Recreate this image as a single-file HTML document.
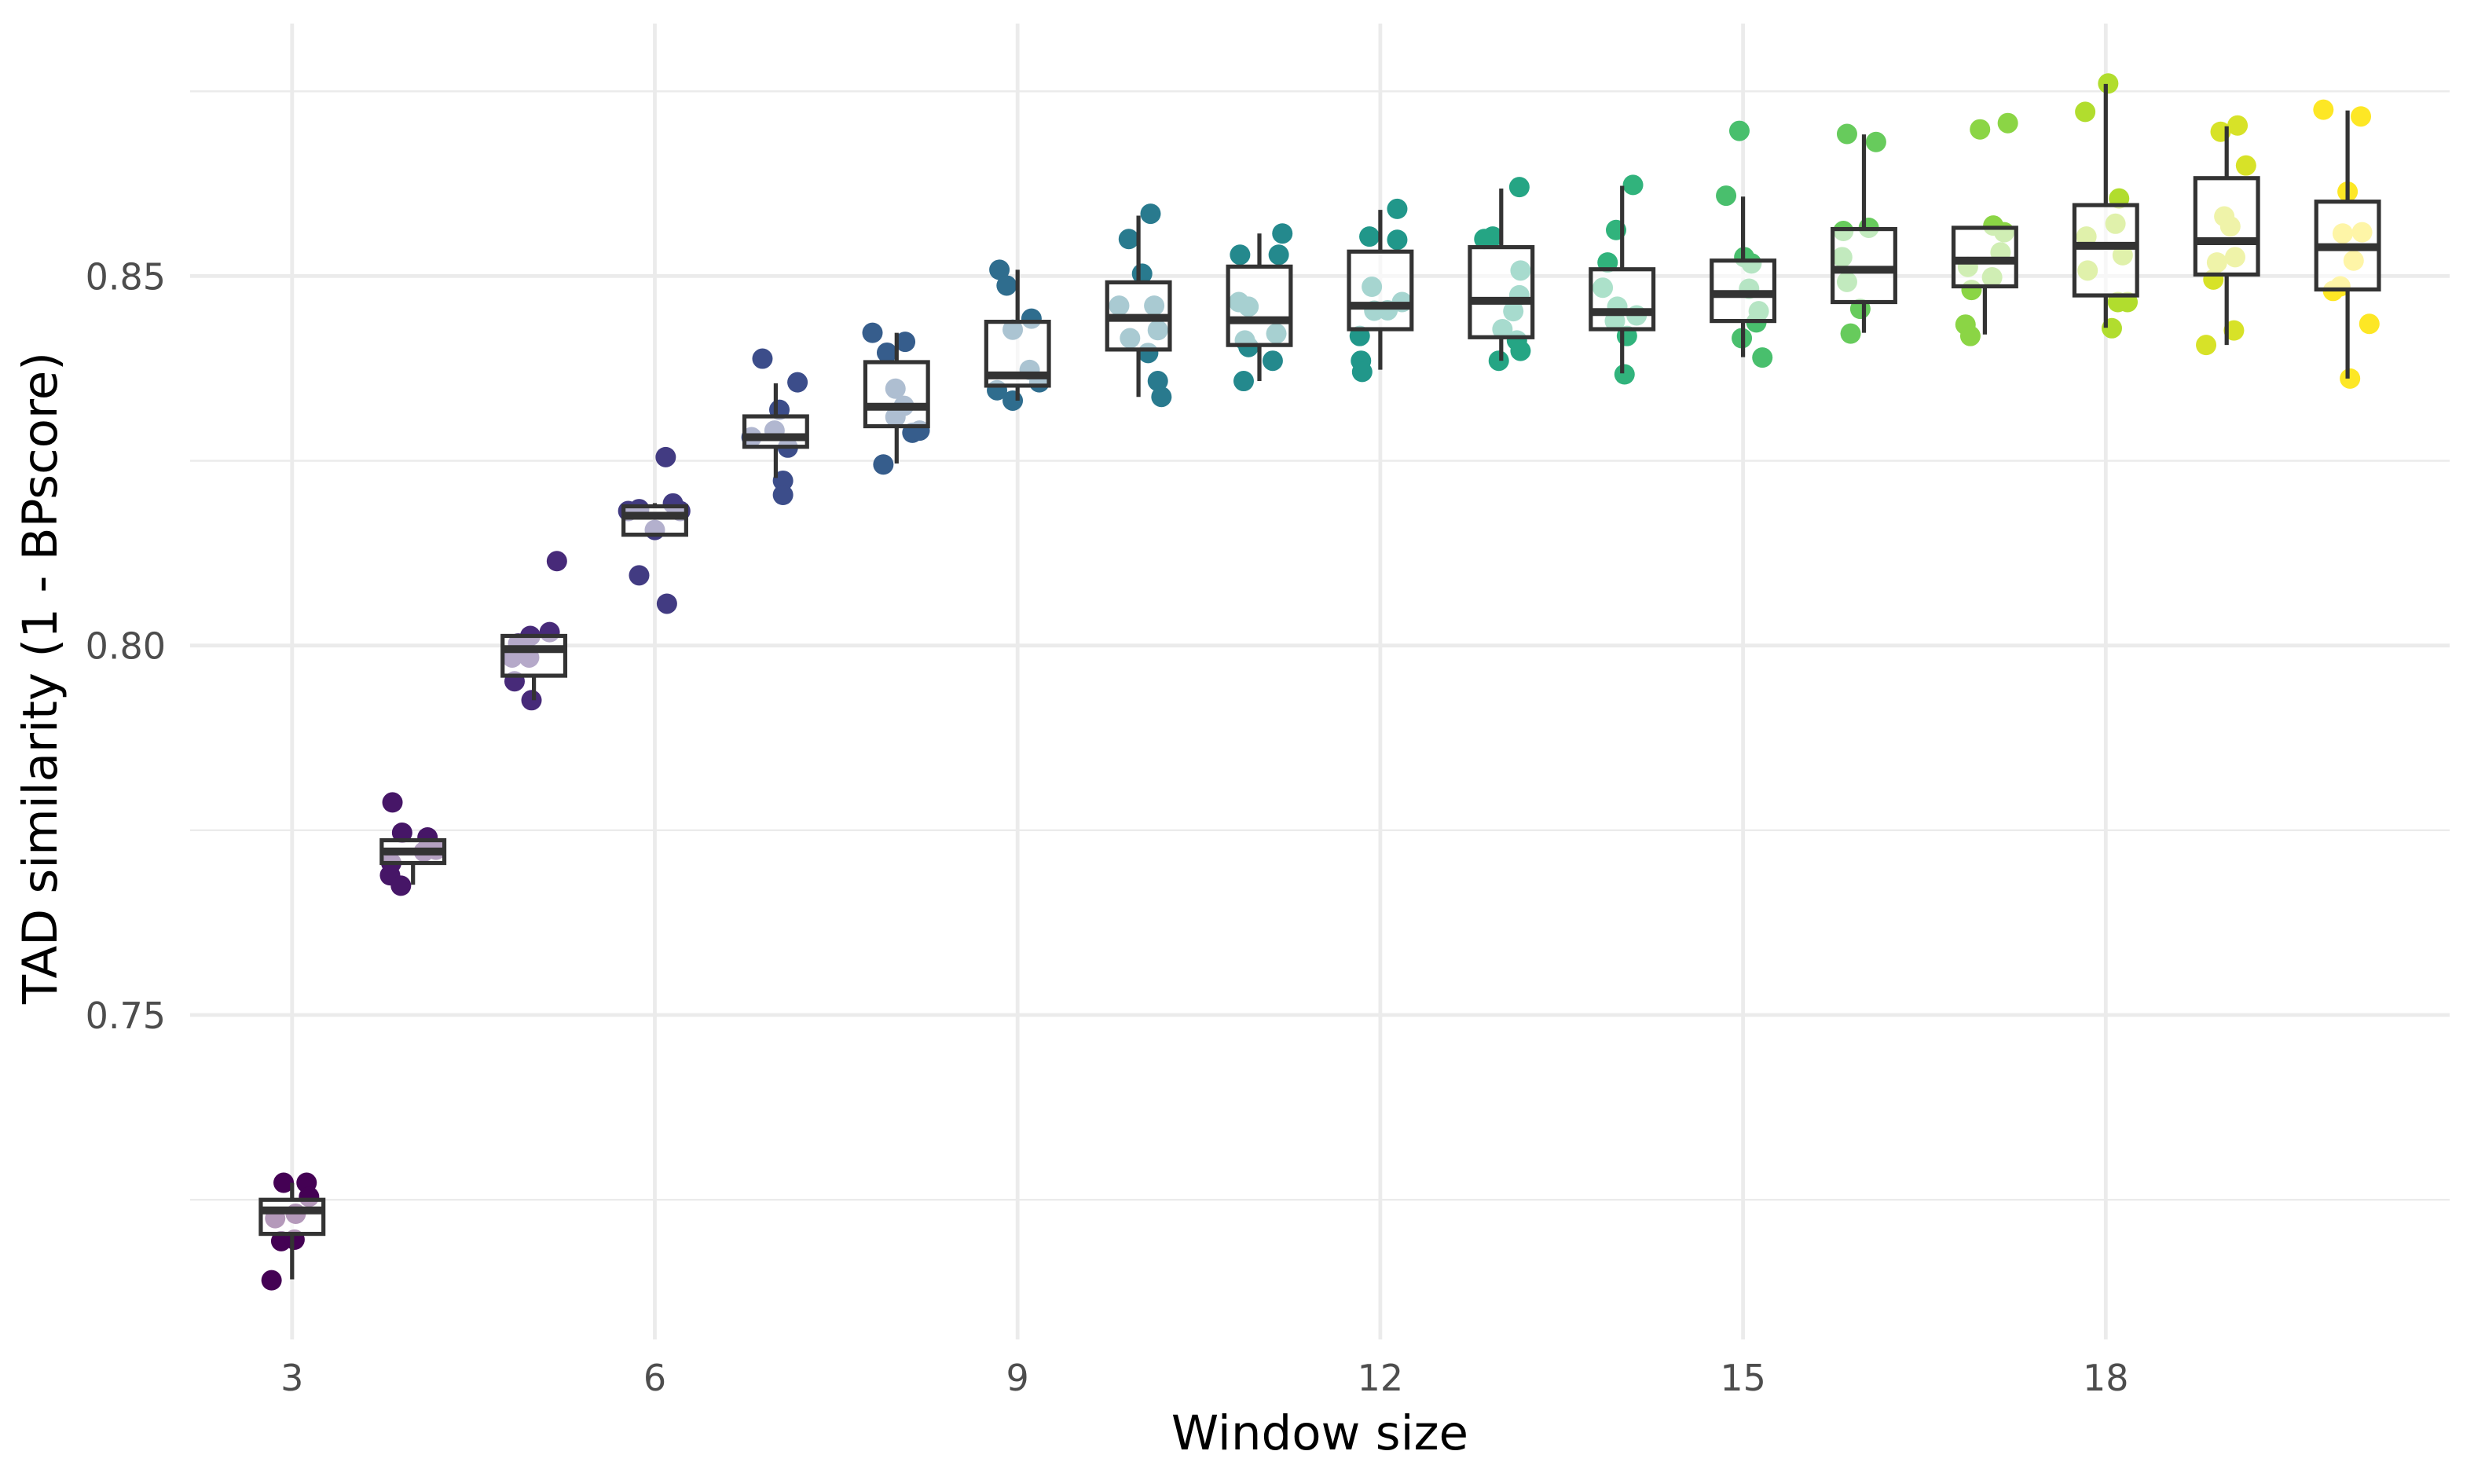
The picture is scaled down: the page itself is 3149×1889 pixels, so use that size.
<!DOCTYPE html>
<html><head><meta charset="utf-8"><title>TAD similarity vs window size</title>
<style>
html,body{margin:0;padding:0;background:#fff;}
svg{display:block;font-family:"DejaVu Sans","Liberation Sans",sans-serif;}
</style></head>
<body>
<svg id="chart" width="3149" height="1889" viewBox="0 0 3149 1889" xmlns="http://www.w3.org/2000/svg">
<rect x="0" y="0" width="3149" height="1889" fill="#fff"/>
<g id="grid"></g>
<g id="points"></g>
<g id="boxes"></g>
<g id="axes"></g>
<text x="1680" y="1845" font-size="61" text-anchor="middle" fill="#000">Window size</text>
<text transform="translate(72,863) rotate(-90)" font-size="61" text-anchor="middle" fill="#000">TAD similarity (1 - BPscore)</text>
</svg>
<script>
const windows = [3,4,5,6,7,8,9,10,11,12,13,14,15,16,17,18,19,20];
const q1 = [0.72038,0.77057,0.79592,0.81500,0.82690,0.82968,0.83517,0.84006,0.84067,0.84281,0.84172,0.84281,0.84392,0.84648,0.84861,0.84738,0.85021,0.84819];
const medians = [0.72356,0.77213,0.79951,0.81756,0.82819,0.83231,0.83656,0.84434,0.84402,0.84599,0.84665,0.84513,0.84757,0.85085,0.85209,0.85410,0.85472,0.85391];
const q3 = [0.72499,0.77365,0.80130,0.81884,0.83101,0.83835,0.84381,0.84915,0.85128,0.85331,0.85391,0.85092,0.85209,0.85636,0.85653,0.85960,0.86325,0.86007];
const whiskerLow = [0.71423,0.76763,0.79260,0.81500,0.82268,0.82463,0.83314,0.83365,0.83579,0.83732,0.83854,0.83683,0.83903,0.84232,0.84210,0.84300,0.84067,0.83613];
const whiskerHigh = [0.72729,0.77392,0.80130,0.81927,0.83549,0.84232,0.85085,0.85817,0.85576,0.85896,0.86184,0.86221,0.86076,0.86916,0.85653,0.87600,0.87027,0.87241];
const pointValues = [
 [0.71410,0.7273,0.7273,0.7225,0.7231,0.7194,0.7196,0.7254],
 [0.77877,0.77467,0.77403,0.76891,0.76750,0.77057,0.77211,0.77237],
 [0.81142,0.8013,0.80181,0.79516,0.7926,0.79838,0.79838,0.80028],
 [0.8255,0.8095,0.80566,0.8182,0.81923,0.81564,0.81846,0.8182],
 [0.83882,0.83562,0.8319,0.82678,0.8223,0.82038,0.82819,0.82909],
 [0.84232,0.8411,0.83963,0.83476,0.83244,0.83092,0.82879,0.82909,0.8245],
 [0.85085,0.84872,0.84274,0.84424,0.8373,0.83455,0.83314,0.83562],
 [0.85843,0.85501,0.85032,0.84599,0.84599,0.84159,0.84268,0.83959,0.83579,0.83365],
 [0.85288,0.85576,0.85288,0.84648,0.84586,0.84129,0.8404,0.84221,0.83854,0.83579],
 [0.85909,0.85534,0.85491,0.84855,0.84537,0.84648,0.84189,0.83854,0.83703,0.84531],
 [0.86204,0.85534,0.85501,0.85075,0.8474,0.84524,0.84281,0.84129,0.83988,0.83854],
 [0.86233,0.85623,0.85184,0.84842,0.84586,0.84467,0.84392,0.84189,0.8367],
 [0.86965,0.86088,0.85256,0.85171,0.84829,0.84524,0.84373,0.84159,0.83897],
 [0.86923,0.86814,0.8561,0.85653,0.85256,0.84921,0.84556,0.84221],
 [0.86985,0.8707,0.85683,0.85593,0.8532,0.85124,0.84983,0.84812,0.84343,0.84189],
 [0.87606,0.87222,0.8605,0.85708,0.85534,0.85282,0.85075,0.84648,0.84648,0.84294],
 [0.86953,0.87038,0.86496,0.85807,0.85672,0.85184,0.85256,0.84953,0.84264,0.84067],
 [0.87251,0.8716,0.86142,0.85576,0.85593,0.85209,0.84861,0.84799,0.84353,0.83613]
];
const pointJitter = [
 [-0.17,-0.07,0.12,-0.14,0.03,-0.09,0.02,0.14],
 [-0.17,-0.09,0.12,-0.19,-0.10,-0.18,0.09,0.19],
 [0.19,-0.03,0.13,-0.16,-0.02,-0.18,-0.04,-0.13],
 [0.09,-0.13,0.10,-0.22,0.15,0.0,-0.13,0.21],
 [-0.11,0.18,0.03,0.10,0.06,0.06,-0.20,-0.01],
 [-0.20,0.07,-0.08,-0.01,0.06,-0.01,0.13,0.19,-0.11],
 [-0.15,-0.09,-0.04,0.115,0.10,-0.17,-0.04,0.18],
 [0.10,-0.08,0.03,-0.16,0.13,-0.07,0.16,0.08,0.16,0.19],
 [-0.16,0.19,0.16,-0.17,-0.09,-0.12,-0.09,0.14,0.11,-0.13],
 [0.14,-0.09,0.14,-0.07,0.06,0.18,-0.17,-0.16,-0.15,-0.05],
 [0.15,-0.07,-0.14,0.16,0.15,0.10,0.01,0.13,0.16,-0.02],
 [0.09,-0.05,-0.12,-0.16,-0.04,0.12,-0.06,0.04,0.02],
 [-0.03,-0.14,0.01,0.07,0.05,0.13,0.11,-0.01,0.16],
 [-0.14,0.10,-0.17,0.04,-0.18,-0.14,-0.03,-0.11],
 [-0.04,0.19,0.07,0.16,0.13,-0.14,0.06,-0.11,-0.16,-0.12],
 [0.02,-0.17,0.11,0.08,-0.16,0.14,-0.15,0.10,0.18,0.05],
 [-0.05,0.09,0.16,-0.02,0.03,-0.08,0.07,-0.11,0.06,-0.17],
 [-0.20,0.11,0.00,-0.04,0.12,0.05,-0.06,-0.12,0.18,0.02]
];
const xTicks = [3,6,9,12,15,18];
const yMajorTicks = [0.75,0.80,0.85];
const yTickLabels = ["0.75","0.80","0.85"];
const yMinorTicks = [0.725,0.775,0.825,0.875];

const NS = "http://www.w3.org/2000/svg";
const PL = 242, PR = 3118, PT = 30, PB = 1705;
function xScale(w){ return 371.8 + (w - 3) * 153.9; }
function yScale(v){ return 351.4 + (0.85 - v) * 9406; }
function mk(tag, attrs, parent){
  const e = document.createElementNS(NS, tag);
  for (const k in attrs) e.setAttribute(k, attrs[k]);
  parent.appendChild(e);
  return e;
}
const viridisStops = [[68,1,84],[72,40,120],[62,73,137],[49,104,142],[38,130,142],[31,158,137],[53,183,121],[110,206,88],[181,222,43],[253,231,37]];
function viridis(t){
  const p = t * (viridisStops.length - 1);
  const i = Math.min(Math.floor(p), viridisStops.length - 2);
  const f = p - i;
  const a = viridisStops[i], b = viridisStops[i+1];
  return "rgb(" + [0,1,2].map(k => Math.round(a[k] + (b[k]-a[k]) * f)).join(",") + ")";
}
const grid = document.getElementById("grid");
yMinorTicks.forEach(v => {
  const l = mk("line", {x1:PL, x2:PR, y1:yScale(v), y2:yScale(v), stroke:"#ebebeb", "stroke-width":2.4}, grid);
  
  
});
yMajorTicks.forEach(v => {
  const l = mk("line", {x1:PL, x2:PR, y1:yScale(v), y2:yScale(v), stroke:"#ebebeb", "stroke-width":4.8}, grid);
  
  
});
xTicks.forEach(w => {
  const l = mk("line", {x1:xScale(w), x2:xScale(w), y1:PT, y2:PB, stroke:"#ebebeb", "stroke-width":4.8}, grid);
  
  
});
const axes = document.getElementById("axes");
xTicks.forEach(w => {
  const t = mk("text", {x:xScale(w), y:1770, "font-size":46, "text-anchor":"middle", fill:"#4d4d4d"}, axes);
  t.textContent = String(w);
  
  
});
yMajorTicks.forEach((v, i) => {
  const t = mk("text", {x:211, y:yScale(v) + 17, "font-size":46, "text-anchor":"end", fill:"#4d4d4d"}, axes);
  t.textContent = yTickLabels[i];
  
  
});
const pts = document.getElementById("points");
const boxes = document.getElementById("boxes");
windows.forEach((w, i) => {
  const col = viridis(i / (windows.length - 1));
  pointValues[i].forEach((v, j) => {
    const c = mk("circle", {cx:xScale(w + pointJitter[i][j]), cy:yScale(v), r:13, fill:col}, pts);
    
    
  });
  const cx = xScale(w), hw = 0.259 * 153.9;
  const g = mk("g", {}, boxes);
  
  
  const wl1 = mk("line", {x1:cx, x2:cx, y1:yScale(q3[i]), y2:yScale(whiskerHigh[i]), stroke:"#333", "stroke-width":5.2}, g);
  
  
  const wl2 = mk("line", {x1:cx, x2:cx, y1:yScale(q1[i]), y2:yScale(whiskerLow[i]), stroke:"#333", "stroke-width":5.2}, g);
  
  
  const r = mk("rect", {x:cx - hw, y:yScale(q3[i]), width:2*hw, height:yScale(q1[i]) - yScale(q3[i]), fill:"#fff", "fill-opacity":0.6, stroke:"#333", "stroke-width":5.2}, g);
  
  
  const m = mk("line", {x1:cx - hw, x2:cx + hw, y1:yScale(medians[i]), y2:yScale(medians[i]), stroke:"#333", "stroke-width":10}, g);
  
  
});
</script>
</body></html>
